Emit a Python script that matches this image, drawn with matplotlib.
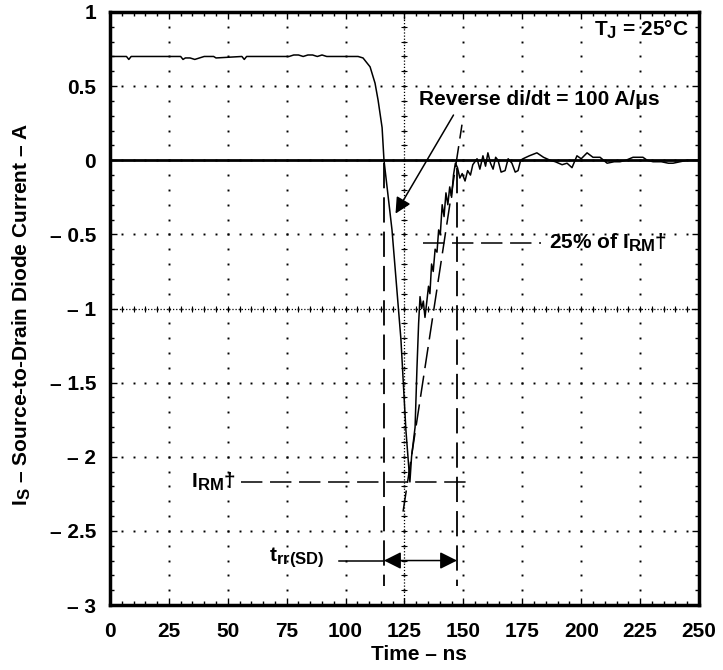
import numpy as np
import matplotlib
matplotlib.use('Agg')
import matplotlib.pyplot as plt
import matplotlib._mathtext as mt

# larger subscripts, closer to the datasheet look
mt.SHRINK_FACTOR = 0.8

plt.rcParams['font.family'] = ['Liberation Sans', 'DejaVu Sans']
plt.rcParams['font.weight'] = 'bold'
plt.rcParams['axes.labelweight'] = 'bold'
plt.rcParams['mathtext.fontset'] = 'custom'
plt.rcParams['mathtext.rm'] = 'Liberation Sans:bold'
plt.rcParams['mathtext.it'] = 'Liberation Sans:bold'
plt.rcParams['mathtext.bf'] = 'Liberation Sans:bold'

# trace (ns, A)
trace_t = [0, 7, 8, 9, 30, 31, 32, 34, 36, 38, 40, 44, 45, 56, 57, 58,
           76, 78, 80, 82, 84, 86, 88, 90, 92, 100, 105.3, 107.4, 110.4,
           112.5, 113.8, 115.5, 116.3, 119.7, 123.5, 125.6, 127.3, 128,
           129.5, 130.3, 131.0, 131.6, 132.3, 133.0, 133.7, 134.5, 135.2,
           135.8, 136.5, 137.2, 138, 138.8, 139.5, 140.2, 141, 141.8, 142.6,
           143.4, 144.2, 145, 145.8, 146.6, 147.5, 148.5, 149.5, 150.7, 151.8,
           153, 154, 155.8, 157, 158.3, 159.4, 160.4, 161.5, 162.6, 163.7,
           164.7, 166, 167.7, 169, 170.6, 172, 173.2, 174.3, 175.3, 178,
           181.2, 184, 186.8, 189, 191.9, 194, 196.1, 198.2, 200, 202.5,
           205, 208, 211, 214, 216.5, 219, 222, 224, 226.2, 228, 230.5,
           234, 237, 239, 242, 245, 249, 250]
trace_i = [0.70, 0.70, 0.68, 0.70, 0.70, 0.68, 0.69, 0.69, 0.68, 0.69, 0.70, 0.70, 0.69, 0.70, 0.68, 0.70,
           0.70, 0.71, 0.71, 0.70, 0.71, 0.71, 0.70, 0.71, 0.70, 0.70, 0.70, 0.69, 0.63,
           0.52, 0.405, 0.22, 0.0, -0.47, -1.21, -1.82, -2.17, -2.0,
           -1.8, -1.4, -1.1, -0.92, -1.0, -0.95, -1.06, -0.95, -0.85,
           -0.9, -0.7, -0.75, -0.6, -0.62, -0.47, -0.5, -0.3, -0.38, -0.22,
           -0.3, -0.18, -0.25, -0.1, -0.02, -0.05, -0.12, -0.09, -0.14, -0.07,
           -0.1, -0.03, 0.01, -0.06, 0.03, -0.04, 0.05, -0.02, -0.06, 0.02,
           0.0, -0.08, -0.07, 0.01, -0.02, -0.08, -0.07, 0.0, 0.01, 0.03,
           0.05, 0.02, 0.0, -0.01, -0.03, -0.02, -0.05, 0.03, 0.01, 0.05,
           0.02, 0.02, -0.02, -0.01, -0.01, 0.0, 0.02, 0.02, 0.02, 0.0, -0.01,
           -0.01, -0.02, -0.02, -0.01, 0.0, 0.0, 0.0]

# annotation values
t_start = 116.3      # trr start
t_end = 147.3        # trr end
irm = -2.17
irm25 = -0.56
slope_t = [124.4, 149.4]
slope_i = [-2.37, 0.24]

xticks = [0, 25, 50, 75, 100, 125, 150, 175, 200, 225, 250]
yticks = [1, 0.5, 0, -0.5, -1, -1.5, -2, -2.5, -3]
ylabels = ['1', '0.5', '0', '\u2013 0.5', '\u2013 1', '\u2013 1.5', '\u2013 2', '\u2013 2.5', '\u2013 3']

fig = plt.figure(figsize=(7.23, 6.70), dpi=100)
ax = fig.add_axes([0.1521, 0.0970, 0.8147, 0.8851])
ax.set_xlim(0, 250)
ax.set_ylim(-3, 1)

# graticule dots
yy = np.arange(-3, 1.001, 0.1)
xx = np.arange(0, 250.1, 5)
for x in xticks[1:-1]:
    ax.plot([x] * len(yy), yy, ls='none', marker='s', ms=1.4, mew=0, color='k')
for y in yticks[1:-1]:
    ax.plot(xx, [y] * len(xx), ls='none', marker='s', ms=1.4, mew=0, color='k')
# centre crosshair
ax.axvline(125, color='k', lw=0.9, ls=(0, (1, 1.5)))
ax.axhline(-1, color='k', lw=0.9, ls=(0, (1, 1.5)))
ax.plot([125] * len(yy), yy, ls='none', marker='_', ms=5, mew=0.8, color='k')
ax.plot(xx, [-1] * len(xx), ls='none', marker='|', ms=5, mew=0.8, color='k')

# zero line
ax.axhline(0, color='k', lw=2)

# trace
ax.plot(trace_t, trace_i, color='k', lw=1.1)

# dashed construction lines
dash = (0, (14, 5))
ax.plot(slope_t, slope_i, color='k', lw=1.1, ls=dash)
ax.plot([t_start, t_start], [-0.02, -2.87], color='k', lw=1.3, ls=dash)
ax.plot([t_end, t_end], [-0.05, -2.87], color='k', lw=1.3, ls=dash)
ax.plot([55.7, 152], [irm, irm], color='k', lw=1.1, ls=dash)
ax.plot([133, 183], [irm25, irm25], color='k', lw=1.1, ls=dash)

# trr arrow
ax.plot([97, t_start], [-2.70, -2.70], color='k', lw=1.1)
ax.annotate('', xy=(t_start, -2.70), xytext=(t_end, -2.70),
            arrowprops=dict(arrowstyle='<|-|>', mutation_scale=26, lw=1.1,
                            color='k', shrinkA=0, shrinkB=0))

# di/dt arrow
ax.annotate('', xy=(121.2, -0.36), xytext=(145.8, 0.305),
            arrowprops=dict(arrowstyle='-|>', mutation_scale=24, lw=1.1,
                            color='k', shrinkA=0, shrinkB=0))

fs = 15
ax.text(131, 0.41, 'Reverse di/dt = 100 A/\u03bcs', fontsize=fs, ha='left', va='center')
ax.text(186.2, irm25, '25% of I$_\\mathrm{RM}$\u2020', fontsize=fs, ha='left', va='center')
ax.text(53.5, irm, 'I$_\\mathrm{RM}$\u2020', fontsize=fs, ha='right', va='center')
ax.text(91, -2.68, 't$_\\mathrm{rr(SD)}$', fontsize=fs, ha='right', va='center')
ax.text(245.7, 0.88, 'T$_\\mathrm{J}$ = 25\u00b0C', fontsize=fs, ha='right', va='center')

ax.set_xticks(xticks)
ax.set_xticklabels([str(v) for v in xticks])
ax.set_yticks(yticks)
ax.set_yticklabels(ylabels)
ax.set_xticks(xx, minor=True)
ax.set_yticks(yy, minor=True)
ax.tick_params(which='both', direction='in', top=True, right=True)
ax.tick_params(which='major', length=5, width=1, labelsize=fs, pad=10)
ax.tick_params(which='minor', length=3, width=1)
ax.tick_params(axis='x', which='major', pad=12)

ax.set_xlabel('Time \u2013 ns', fontsize=fs, fontweight='bold')
ax.set_ylabel('I$_\\mathrm{S}$ \u2013 Source-to-Drain Diode Current \u2013 A', fontsize=fs, fontweight='bold')
ax.xaxis.set_label_coords(0.525, -0.068)
ax.yaxis.set_label_coords(-0.13, 0.49)

for s in ax.spines.values():
    s.set_linewidth(2.5)

fig.savefig('out.png', dpi=100)
